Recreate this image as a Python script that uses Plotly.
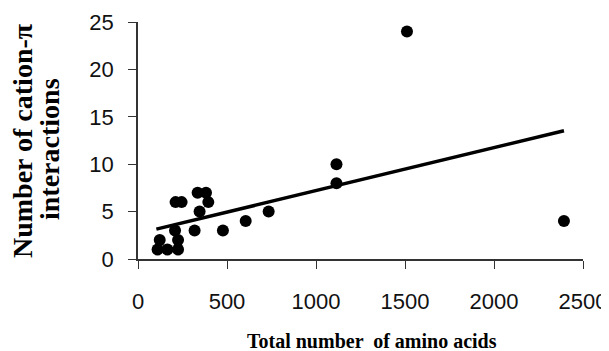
import plotly.graph_objects as go

# Data
amino_acids = [110, 165, 225, 122, 225, 208, 211, 245, 335, 382, 395, 346, 318, 477, 605, 734, 1115, 1115, 1511, 2393]
cation_pi = [1, 1, 1, 2, 2, 3, 6, 6, 7, 7, 6, 5, 3, 3, 4, 5, 10, 8, 24, 4]
trend_x = [103, 2393]
trend_y = [3.15, 13.53]
x_ticks = [0, 500, 1000, 1500, 2000, 2500]
y_ticks = [0, 5, 10, 15, 20, 25]

# The page body has an 8px default margin; work in page pixels and shift.
OFF = 8
W, H = 609 - OFF, 351 - OFF
L, R, T, B = 138 - OFF, 583 - OFF, 22 - OFF, 259 - OFF

axis_font = dict(family="Liberation Sans, Arial", size=22, color="#111")
serif = "Liberation Serif, Times New Roman"


def px(xp):
    return (xp - OFF - L) / (R - L)


def py(yp):
    return (B - (yp - OFF)) / (B - T)


fig = go.Figure()
fig.add_trace(go.Scatter(x=trend_x, y=trend_y, mode="lines",
                         line=dict(color="black", width=3.5), showlegend=False))
fig.add_trace(go.Scatter(x=amino_acids, y=cation_pi, mode="markers",
                         marker=dict(color="black", size=12), showlegend=False))

fig.update_layout(
    width=W, height=H,
    margin=dict(l=L, r=W - R, t=T, b=H - B),
    paper_bgcolor="white", plot_bgcolor="white",
    xaxis=dict(range=[0, 2500], tickvals=x_ticks, showgrid=False, zeroline=False,
               showline=True, linecolor="#333", linewidth=1.5,
               ticks="outside", ticklen=8, tickcolor="#333", tickwidth=1.2,
               tickfont=axis_font, ticklabelstandoff=14, automargin=False),
    yaxis=dict(range=[0, 25], tickvals=y_ticks, showgrid=False, zeroline=False,
               showline=True, linecolor="#333", linewidth=1.5,
               ticks="outside", ticklen=8, tickcolor="#333", tickwidth=1.2,
               tickfont=axis_font, ticklabelstandoff=10, automargin=False),
    annotations=[
        dict(text="<b>Total number  of amino acids</b>", xref="paper", yref="paper",
             x=px(372), y=py(341), xanchor="center", yanchor="middle",
             showarrow=False, font=dict(family=serif, size=20, color="black")),
        dict(text="<b>Number of cation-π</b>", xref="paper", yref="paper",
             x=px(22), y=py(141), xanchor="center", yanchor="middle",
             textangle=-90, showarrow=False,
             font=dict(family=serif, size=28, color="black")),
        dict(text="<b>interactions</b>", xref="paper", yref="paper",
             x=px(49), y=py(149), xanchor="center", yanchor="middle",
             textangle=-90, showarrow=False,
             font=dict(family=serif, size=28, color="black")),
    ],
)

fig.write_html("out.html")
